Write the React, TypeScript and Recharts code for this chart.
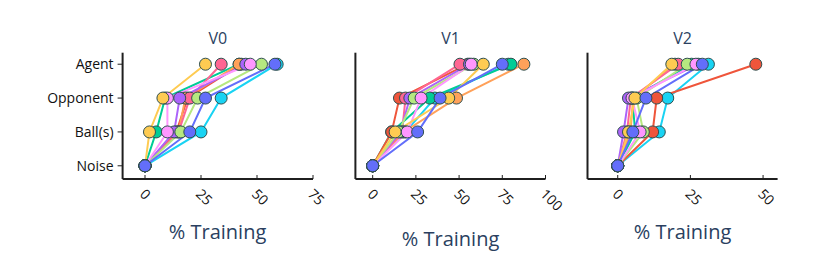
import { LineChart, Line, XAxis, YAxis } from "recharts";

// category rows, bottom to top
const ROWS = ["Noise", "Ball(s)", "Opponent", "Agent"];

// draw order (last one ends on top)
const SERIES = ["cyan", "green", "red", "orange", "pink", "purple", "lightgreen", "magenta", "yellow", "blue"];
const COLORS: Record<string, string> = {
  blue: "#636EFA",
  red: "#EF553B",
  green: "#00CC96",
  purple: "#AB63FA",
  orange: "#FFA15A",
  cyan: "#19D3F3",
  pink: "#FF6692",
  lightgreen: "#B6E880",
  magenta: "#FF97FF",
  yellow: "#FECB52",
};

// % training, same order as SERIES
const NOISE = [0, 0, 0, 0, 0, 0, 0, 0, 0, 0];

const V0_BALL = [25, 5, 14, 15, 15, 13, 16, 10, 2, 20];
const V0_OPP = [34, 9, 19, 18, 20, 15.5, 23.5, 10, 8, 27];
const V0_AGENT = [59, 42, 43, 42, 34, 45, 52, 47, 27, 58];

const V1_BALL = [19, 11, 11, 18, 17, 16, 15, 20, 13, 26];
const V1_OPP = [36, 33, 15.5, 48.5, 19, 21.5, 24, 28, 44, 39];
const V1_AGENT = [78.5, 80, 55, 87.5, 50.5, 56, 58.5, 57, 64, 75];

const V2_BALL = [14.3, 6, 12, 4.4, 3.2, 2, 8.8, 7.7, 3.7, 5.2];
const V2_OPP = [17.2, 5, 13.4, 5.3, 4.5, 3.7, 6.5, 4.9, 5.9, 9.7];
const V2_AGENT = [31.2, 25.4, 47.5, 19.7, 20.8, 27.7, 23.9, 26.9, 18.6, 29.1];

const V0_TICKS = [0, 25, 50, 75];
const V1_TICKS = [0, 25, 50, 75, 100];
const V2_TICKS = [0, 25, 50];

const FONT = '"Open Sans", verdana, arial, sans-serif';
const AXIS = "#1f1f1f";
const TITLE = "#2a3f5f";

const panels = [
  {
    title: "V0",
    cols: [NOISE, V0_BALL, V0_OPP, V0_AGENT],
    ticks: V0_TICKS,
    domain: [-10, 75],
    left: 0,
    width: 330,
    margin: { top: 52.7, right: 17, bottom: 0, left: 62.6 },
    yWidth: 60,
    showY: true,
  },
  {
    title: "V1",
    cols: [NOISE, V1_BALL, V1_OPP, V1_AGENT],
    ticks: V1_TICKS,
    domain: [-10, 100],
    left: 330,
    width: 240,
    margin: { top: 52.7, right: 24.5, bottom: 0, left: 24.4 },
    yWidth: 1,
    showY: false,
  },
  {
    title: "V2",
    cols: [NOISE, V2_BALL, V2_OPP, V2_AGENT],
    ticks: V2_TICKS,
    domain: [-10.4, 55],
    left: 580,
    width: 250,
    margin: { top: 52.7, right: 52.4, bottom: 0, left: 6.5 },
    yWidth: 1,
    showY: false,
  },
];

const XTick = (props: any) => {
  const { x, y, payload } = props;
  const tx = x - 2;
  const ty = y + 12;
  return (
    <g>
      <line x1={x} x2={x} y1={y - 4} y2={y} stroke={AXIS} strokeWidth={1} />
      <text
        x={tx}
        y={ty}
        transform={`rotate(45 ${tx} ${ty})`}
        textAnchor="start"
        dominantBaseline="central"
        fontFamily={FONT}
        fontSize={14}
        fill="#111"
      >
        {payload.value}
      </text>
    </g>
  );
};

function Panel({ p }: { p: (typeof panels)[number] }) {
  return (
    <div style={{ position: "absolute", left: p.left, top: 0 }}>
      <LineChart width={p.width} height={260} margin={p.margin}>
        <XAxis
          type="number"
          dataKey="x"
          domain={p.domain}
          allowDataOverflow
          ticks={p.ticks}
          interval={0}
          height={81}
          tickSize={0}
          tickMargin={0}
          tickLine={false}
          tick={<XTick />}
          axisLine={{ stroke: AXIS, strokeWidth: 2 }}
        />
        <YAxis
          type="number"
          dataKey="y"
          domain={[-0.39, 3.34]}
          allowDataOverflow
          ticks={[0, 1, 2, 3]}
          interval={0}
          width={p.yWidth}
          tickFormatter={(v: number) => ROWS[v]}
          tick={p.showY ? { fill: "#111", fontSize: 14, fontFamily: FONT } : false}
          tickLine={p.showY ? { stroke: AXIS, strokeWidth: 1 } : false}
          tickSize={5}
          tickMargin={4}
          axisLine={{ stroke: AXIS, strokeWidth: 2 }}
        />
        {SERIES.map((s, i) => (
          <Line
            key={s}
            data={p.cols.map((col, row) => ({ x: col[i], y: row }))}
            dataKey="y"
            stroke={COLORS[s]}
            strokeWidth={2}
            dot={{ r: 6, fill: COLORS[s], stroke: "#2F4F4F", strokeWidth: 1 }}
            isAnimationActive={false}
          />
        ))}
      </LineChart>
    </div>
  );
}

export default function App() {
  return (
    <div style={{ position: "absolute", left: 0, top: 0, width: 830, height: 260, background: "#fff" }}>
      {panels.map((p) => (
        <Panel key={p.title} p={p} />
      ))}
      <svg
        width={830}
        height={260}
        style={{ position: "absolute", left: 0, top: 0, pointerEvents: "none" }}
      >
        <g fontFamily={FONT} fill={TITLE} textAnchor="middle">
          <text x={217.8} y={44.3} fontSize={16}>V0</text>
          <text x={450.5} y={44.3} fontSize={16}>V1</text>
          <text x={682.5} y={44.3} fontSize={16}>V2</text>
          <text x={217.5} y={239} fontSize={20}>% Training</text>
          <text x={450.5} y={246} fontSize={20}>% Training</text>
          <text x={682.5} y={239} fontSize={20}>% Training</text>
        </g>
      </svg>
    </div>
  );
}
